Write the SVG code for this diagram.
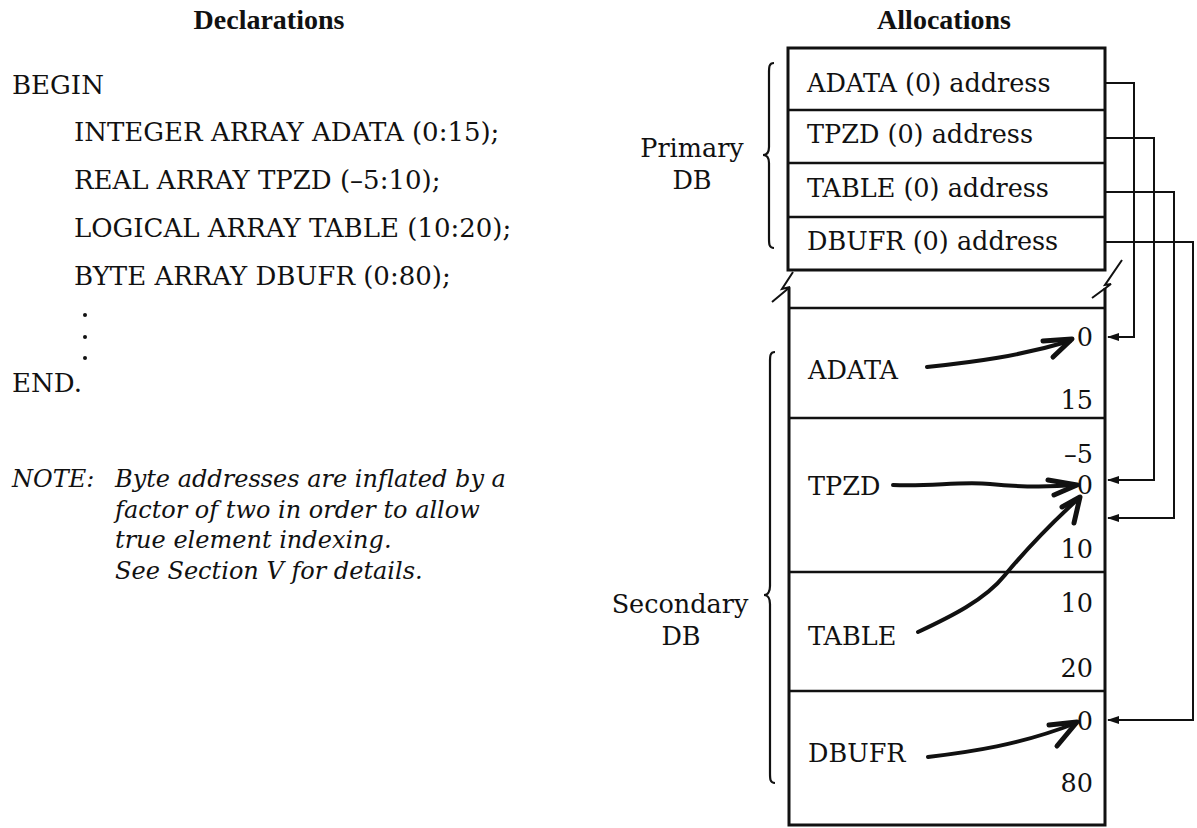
<svg xmlns="http://www.w3.org/2000/svg" width="1197" height="828" viewBox="0 0 1197 828">
<style>
  .t { font-family: "DejaVu Serif", "Liberation Serif", serif; font-size: 25.5px; fill: #111; }
  .code { font-size: 26px; }
  .h { font-family: "Liberation Serif", "DejaVu Serif", serif; font-weight: bold; font-size: 28px; }
  .i { font-style: italic; font-size: 24px; }
  .r { text-anchor: end; }
  .m { text-anchor: middle; }
  .box { fill: none; stroke: #111; stroke-width: 3; }
  .div { fill: none; stroke: #111; stroke-width: 2.5; }
  .link { fill: none; stroke: #111; stroke-width: 2; }
  .hand { fill: none; stroke: #111; stroke-width: 4; stroke-linecap: round; stroke-linejoin: round; }
  .head { fill: none; stroke: #111; stroke-width: 5; stroke-linecap: round; stroke-linejoin: round; }
  .brace { fill: none; stroke: #111; stroke-width: 2.2; }
</style>
<defs>
  <marker id="ah" markerWidth="12" markerHeight="8" refX="11" refY="4" orient="auto" markerUnits="userSpaceOnUse">
    <path d="M0,0 L12,4 L0,8 Z" fill="#111"/>
  </marker>
</defs>
<rect width="1197" height="828" fill="#fff"/>

<!-- column headings -->
<g id="headings">
  <text class="t h m" x="269" y="29">Declarations</text>
  <text class="t h m" x="944" y="29">Allocations</text>
</g>

<!-- source declarations -->
<g id="declarations">
  <text class="t code" x="12" y="94">BEGIN</text>
  <text class="t code" x="74" y="141">INTEGER ARRAY ADATA (0:15);</text>
  <text class="t code" x="74" y="189">REAL ARRAY TPZD (–5:10);</text>
  <text class="t code" x="74" y="237">LOGICAL ARRAY TABLE (10:20);</text>
  <text class="t code" x="74" y="285">BYTE ARRAY DBUFR (0:80);</text>
  <circle cx="85" cy="315" r="2" fill="#111"/>
  <circle cx="85" cy="337" r="2" fill="#111"/>
  <circle cx="85" cy="358" r="2" fill="#111"/>
  <text class="t code" x="12" y="392">END.</text>
</g>

<!-- footnote -->
<g id="note">
  <text class="t i" x="12" y="487">NOTE:</text>
  <text class="t i" x="115" y="487">Byte addresses are inflated by a</text>
  <text class="t i" x="115" y="518">factor of two in order to allow</text>
  <text class="t i" x="115" y="548">true element indexing.</text>
  <text class="t i" x="115" y="579">See Section V for details.</text>
</g>

<!-- primary DB: pointer cells -->
<g id="primary">
  <rect class="box" x="788" y="48" width="317" height="222"/>
  <path class="div" d="M788,110 H1105 M788,163 H1105 M788,217 H1105"/>
  <text class="t" x="807" y="92">ADATA (0) address</text>
  <text class="t" x="807" y="143">TPZD (0) address</text>
  <text class="t" x="807" y="197">TABLE (0) address</text>
  <text class="t" x="807" y="250">DBUFR (0) address</text>
</g>

<!-- break between the two areas -->
<g id="break">
  <path class="link" d="M793,272 L782,289 L790,287 L772,302"/>
  <path class="link" d="M1122,260 L1105,285 L1111,284 L1092,298"/>
</g>

<!-- secondary DB: array storage -->
<g id="secondary">
  <path class="box" d="M789,288 V825 H1105 V288"/>
  <path class="div" d="M789,308 H1105 M789,418 H1105 M789,572 H1105 M789,691 H1105"/>
</g>

<g id="cell-adata">
  <text class="t" x="808" y="379">ADATA</text>
  <text class="t r" x="1093" y="346">0</text>
  <text class="t r" x="1093" y="409">15</text>
</g>
<g id="cell-tpzd">
  <text class="t r" x="1093" y="463">–5</text>
  <text class="t" x="808" y="495">TPZD</text>
  <text class="t r" x="1093" y="494">0</text>
  <text class="t r" x="1093" y="558">10</text>
</g>
<g id="cell-table">
  <text class="t r" x="1093" y="612">10</text>
  <text class="t" x="808" y="645">TABLE</text>
  <text class="t r" x="1093" y="677">20</text>
</g>
<g id="cell-dbufr">
  <text class="t r" x="1093" y="730">0</text>
  <text class="t" x="808" y="762">DBUFR</text>
  <text class="t r" x="1093" y="792">80</text>
</g>

<!-- area labels with braces -->
<g id="label-primary">
  <path class="brace" d="M774,63 C769,63 769,67 769,73 L769,147 C769,152 767,155 763,155 C767,155 769,158 769,163 L769,238 C769,244 769,248 774,248"/>
  <text class="t m" x="692" y="157">Primary</text>
  <text class="t m" x="692" y="189">DB</text>
</g>
<g id="label-secondary">
  <path class="brace" d="M775,352 C770,352 770,356 770,362 L770,586 C770,591 768,595 764,595 C768,595 770,599 770,604 L770,773 C770,779 770,783 775,783"/>
  <text class="t m" x="680" y="613">Secondary</text>
  <text class="t m" x="681" y="645">DB</text>
</g>

<!-- connectors: pointer cells to element zero, and name to element zero -->
<g id="connectors">
  <path class="link" marker-end="url(#ah)" d="M1105,83 H1134 V337 H1108"/>
  <path class="link" marker-end="url(#ah)" d="M1105,138 H1154 V480 H1108"/>
  <path class="link" marker-end="url(#ah)" d="M1105,192 H1174 V518 H1108"/>
  <path class="link" marker-end="url(#ah)" d="M1105,242 H1193 V720 H1108"/>

  <path class="hand" d="M927,367 C975,362 1020,356 1070,341"/>
  <path class="head" d="M1043,341 L1072,339 L1053,357"/>

  <path class="hand" d="M893,485 C930,487 960,481 990,484 S1050,487 1076,485"/>
  <path class="head" d="M1048,480 L1077,485 L1054,495"/>

  <path class="hand" d="M918,632 C950,617 985,600 1005,575 C1030,545 1055,520 1078,499"/>
  <path class="head" d="M1062,507 L1080,497 L1074,523"/>

  <path class="hand" d="M928,757 C970,752 1020,745 1076,723"/>
  <path class="head" d="M1049,725 L1077,722 L1057,746"/>
</g>
</svg>
